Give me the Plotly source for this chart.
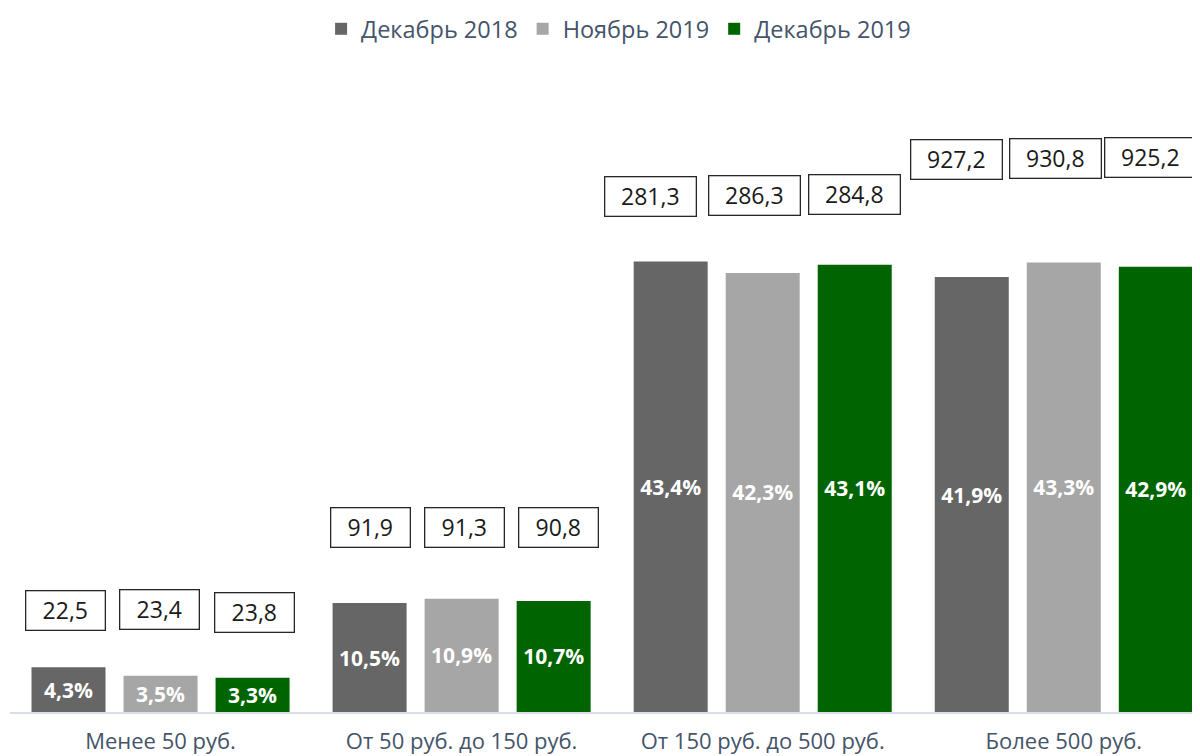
import plotly.graph_objects as go

categories = ["Менее 50 руб.", "От 50 руб. до 150 руб.", "От 150 руб. до 500 руб.", "Более 500 руб."]
series_names = ["Декабрь 2018", "Ноябрь 2019", "Декабрь 2019"]
share_dec2018 = [4.3, 10.5, 43.4, 41.9]
share_nov2019 = [3.5, 10.9, 42.3, 43.3]
share_dec2019 = [3.3, 10.7, 43.1, 42.9]
value_dec2018 = [22.5, 91.9, 281.3, 927.2]
value_nov2019 = [23.4, 91.3, 286.3, 930.8]
value_dec2019 = [23.8, 90.8, 284.8, 925.2]

colors = ["#666666", "#A6A6A6", "#006400"]
FONT = "Open Sans, sans-serif"
TXT_COLOR = "#44546A"

shares = [share_dec2018, share_nov2019, share_dec2019]
values = [value_dec2018, value_nov2019, value_dec2019]

def fmt(v):
    return f"{v:.1f}".replace(".", ",")

fig = go.Figure()
for name, s, c in zip(series_names, shares, colors):
    fig.add_trace(go.Bar(
        x=categories, y=s, name=name,
        marker=dict(color=c, line=dict(width=0)),
        text=[fmt(v) + "%" for v in s],
        textposition="inside", insidetextanchor="middle",
        constraintext="none",
        textfont=dict(family=FONT, size=21, color="white", weight="bold"),
        hoverinfo="skip",
    ))

# layout positioning of the value boxes (box centre level in axis units, horizontal shift in px)
box_level = [[9.8, 9.9, 9.6], [17.8, 17.8, 17.8], [49.7, 49.8, 49.9], [53.2, 53.3, 53.4]]
box_shift = [[-3, -1, 2], [1, 3, 5], [-20, -8, 0], [-15, -8, -5]]
slot = 92 / 301.1
for k in range(3):
    for i in range(len(categories)):
        txt = fmt(values[k][i])
        fig.add_annotation(
            x=i + (k - 1) * slot, y=box_level[i][k], xref="x", yref="y",
            text=txt, showarrow=False, xshift=box_shift[i][k],
            font=dict(family=FONT, size=23, color="#1a1a1a"),
            bordercolor="#262626", borderwidth=1.3, borderpad=3,
            bgcolor="white", width=72 if len(txt) <= 4 else 84, height=32,
            yanchor="middle",
        )

fig.update_layout(
    width=1200, height=756,
    margin=dict(l=2, r=0, t=92, b=52),
    paper_bgcolor="white", plot_bgcolor="white",
    barmode="group", bargap=0.083, bargroupgap=0.196,
    showlegend=True,
    legend=dict(orientation="h", xref="paper", yref="container", x=0.508, y=1 - 21 / 756,
                xanchor="center", yanchor="middle", itemwidth=30,
                font=dict(family=FONT, size=23.5, color=TXT_COLOR), traceorder="normal"),
    xaxis=dict(range=[-0.5, 3.479], showline=True, linecolor="#D9DEE6", linewidth=1.5,
               ticks="outside", ticklen=9, tickcolor="rgba(0,0,0,0)",
               tickfont=dict(family=FONT, size=22, color=TXT_COLOR),
               showgrid=False, automargin=False, fixedrange=True),
    yaxis=dict(range=[0, 58.96], visible=False, showgrid=False, zeroline=False, fixedrange=True),
)

fig.write_html("out.html")
